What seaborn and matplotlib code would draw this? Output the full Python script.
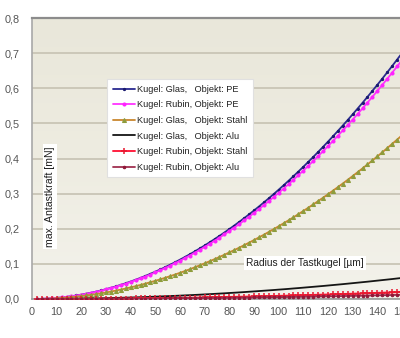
import matplotlib
matplotlib.use("Agg")
import matplotlib.pyplot as plt
import seaborn as sns
import numpy as np
import pandas as pd
from matplotlib.colors import LinearSegmentedColormap

radius = list(range(2, 151, 2))

glas_pe = [0.0001, 0.0005, 0.0011, 0.0020, 0.0031, 0.0045, 0.0061, 0.0080, 0.0101, 0.0124,
           0.0151, 0.0179, 0.0210, 0.0244, 0.0280, 0.0319, 0.0360, 0.0403, 0.0449, 0.0498,
           0.0549, 0.0602, 0.0658, 0.0717, 0.0778, 0.0841, 0.0907, 0.0976, 0.1047, 0.1120,
           0.1196, 0.1274, 0.1355, 0.1439, 0.1524, 0.1613, 0.1704, 0.1797, 0.1893, 0.1991,
           0.2092, 0.2195, 0.2301, 0.2409, 0.2520, 0.2633, 0.2749, 0.2867, 0.2988, 0.3111,
           0.3237, 0.3365, 0.3496, 0.3629, 0.3764, 0.3903, 0.4043, 0.4186, 0.4332, 0.4480,
           0.4631, 0.4784, 0.4939, 0.5097, 0.5258, 0.5421, 0.5586, 0.5754, 0.5925, 0.6098,
           0.6273, 0.6451, 0.6632, 0.6815, 0.7000]

rubin_pe = [0.0001, 0.0005, 0.0011, 0.0019, 0.0030, 0.0044, 0.0059, 0.0077, 0.0098, 0.0121,
            0.0146, 0.0174, 0.0204, 0.0237, 0.0272, 0.0309, 0.0349, 0.0392, 0.0436, 0.0484,
            0.0533, 0.0585, 0.0640, 0.0696, 0.0756, 0.0817, 0.0881, 0.0948, 0.1017, 0.1088,
            0.1162, 0.1238, 0.1316, 0.1397, 0.1481, 0.1567, 0.1655, 0.1746, 0.1839, 0.1934,
            0.2032, 0.2132, 0.2235, 0.2340, 0.2448, 0.2558, 0.2670, 0.2785, 0.2903, 0.3022,
            0.3144, 0.3269, 0.3396, 0.3525, 0.3657, 0.3791, 0.3928, 0.4067, 0.4208, 0.4352,
            0.4498, 0.4647, 0.4798, 0.4952, 0.5108, 0.5266, 0.5427, 0.5590, 0.5756, 0.5924,
            0.6094, 0.6267, 0.6442, 0.6620, 0.6800]

glas_stahl = [0.0001, 0.0003, 0.0007, 0.0013, 0.0021, 0.0030, 0.0041, 0.0053, 0.0067, 0.0083,
              0.0100, 0.0119, 0.0140, 0.0162, 0.0186, 0.0212, 0.0239, 0.0268, 0.0299, 0.0331,
              0.0365, 0.0401, 0.0438, 0.0477, 0.0518, 0.0560, 0.0604, 0.0650, 0.0697, 0.0746,
              0.0796, 0.0848, 0.0902, 0.0958, 0.1015, 0.1074, 0.1134, 0.1196, 0.1260, 0.1326,
              0.1393, 0.1461, 0.1532, 0.1604, 0.1678, 0.1753, 0.1830, 0.1909, 0.1989, 0.2071,
              0.2155, 0.2240, 0.2327, 0.2416, 0.2506, 0.2598, 0.2692, 0.2787, 0.2884, 0.2982,
              0.3083, 0.3185, 0.3288, 0.3393, 0.3500, 0.3609, 0.3719, 0.3831, 0.3944, 0.4059,
              0.4176, 0.4295, 0.4415, 0.4537, 0.4660]

glas_alu = [0.0000, 0.0000, 0.0001, 0.0002, 0.0003, 0.0004, 0.0005, 0.0007, 0.0009, 0.0011,
            0.0013, 0.0015, 0.0018, 0.0021, 0.0024, 0.0027, 0.0031, 0.0035, 0.0039, 0.0043,
            0.0047, 0.0052, 0.0056, 0.0061, 0.0067, 0.0072, 0.0078, 0.0084, 0.0090, 0.0096,
            0.0103, 0.0109, 0.0116, 0.0123, 0.0131, 0.0138, 0.0146, 0.0154, 0.0162, 0.0171,
            0.0179, 0.0188, 0.0197, 0.0207, 0.0216, 0.0226, 0.0236, 0.0246, 0.0256, 0.0267,
            0.0277, 0.0288, 0.0300, 0.0311, 0.0323, 0.0335, 0.0347, 0.0359, 0.0371, 0.0384,
            0.0397, 0.0410, 0.0423, 0.0437, 0.0451, 0.0465, 0.0479, 0.0493, 0.0508, 0.0523,
            0.0538, 0.0553, 0.0568, 0.0584, 0.0600]

rubin_stahl = [0.0000, 0.0000, 0.0000, 0.0001, 0.0001, 0.0001, 0.0002, 0.0002, 0.0003, 0.0004,
               0.0004, 0.0005, 0.0006, 0.0007, 0.0008, 0.0009, 0.0010, 0.0012, 0.0013, 0.0014,
               0.0016, 0.0017, 0.0019, 0.0020, 0.0022, 0.0024, 0.0026, 0.0028, 0.0030, 0.0032,
               0.0034, 0.0036, 0.0039, 0.0041, 0.0044, 0.0046, 0.0049, 0.0051, 0.0054, 0.0057,
               0.0060, 0.0063, 0.0066, 0.0069, 0.0072, 0.0075, 0.0079, 0.0082, 0.0085, 0.0089,
               0.0092, 0.0096, 0.0100, 0.0104, 0.0108, 0.0112, 0.0116, 0.0120, 0.0124, 0.0128,
               0.0132, 0.0137, 0.0141, 0.0146, 0.0150, 0.0155, 0.0160, 0.0164, 0.0169, 0.0174,
               0.0179, 0.0184, 0.0189, 0.0195, 0.0200]

rubin_alu = [0.0000, 0.0000, 0.0000, 0.0000, 0.0001, 0.0001, 0.0001, 0.0001, 0.0002, 0.0002,
             0.0003, 0.0003, 0.0004, 0.0004, 0.0005, 0.0005, 0.0006, 0.0007, 0.0008, 0.0009,
             0.0009, 0.0010, 0.0011, 0.0012, 0.0013, 0.0014, 0.0016, 0.0017, 0.0018, 0.0019,
             0.0021, 0.0022, 0.0023, 0.0025, 0.0026, 0.0028, 0.0029, 0.0031, 0.0032, 0.0034,
             0.0036, 0.0038, 0.0039, 0.0041, 0.0043, 0.0045, 0.0047, 0.0049, 0.0051, 0.0053,
             0.0055, 0.0058, 0.0060, 0.0062, 0.0065, 0.0067, 0.0069, 0.0072, 0.0074, 0.0077,
             0.0079, 0.0082, 0.0085, 0.0087, 0.0090, 0.0093, 0.0096, 0.0099, 0.0102, 0.0105,
             0.0108, 0.0111, 0.0114, 0.0117, 0.0120]

labels = ["Kugel: Glas,   Objekt: PE",
          "Kugel: Rubin, Objekt: PE",
          "Kugel: Glas,   Objekt: Stahl",
          "Kugel: Glas,   Objekt: Alu",
          "Kugel: Rubin, Objekt: Stahl",
          "Kugel: Rubin, Objekt: Alu"]
series = [glas_pe, rubin_pe, glas_stahl, glas_alu, rubin_stahl, rubin_alu]

y_ticks = [0.0, 0.1, 0.2, 0.3, 0.4, 0.5, 0.6, 0.7, 0.8]
x_ticks = list(range(0, 151, 10))

ylabel = "max. Antastkraft [mN]"
xlabel = "Radius der Tastkugel [µm]"

sns.set_theme(style="white")
plt.rcParams['font.family'] = ['Liberation Sans', 'DejaVu Sans']

fig = plt.figure(figsize=(4.0, 3.38), dpi=100)
ax = fig.add_axes([32/400, 1-299/338, 370/400, (299-18)/338])

# background gradient
grad = np.linspace(0, 1, 256).reshape(-1, 1)
cmap = LinearSegmentedColormap.from_list("bg", ["#F3F2EB", "#EEECE1", "#E9E7DA"])
ax.imshow(grad, aspect="auto", cmap=cmap, extent=[0, 1, 0, 1],
          transform=ax.transAxes, zorder=0, origin="lower")
ax.set_facecolor("#EDEBDF")

styles = [
    dict(color="#2A2A90", marker="o", markersize=1.6, markerfacecolor="#1A1A70",
         markeredgecolor="#1A1A70", linewidth=1.3),
    dict(color="#FF33FF", marker="o", markersize=2.2, markerfacecolor="#FF22FF",
         markeredgecolor="#FF22FF", linewidth=1.3),
    dict(color="#C9872E", marker="^", markersize=2.9, markerfacecolor="#8E9C3C",
         markeredgecolor="#8E9C3C", linewidth=1.3),
    dict(color="#151515", marker=None, linewidth=1.3),
    dict(color="#FF2040", marker="+", markersize=4.5, markeredgecolor="#E81830",
         markeredgewidth=1.1, linewidth=1.4),
    dict(color="#A03050", marker="o", markersize=1.8, markerfacecolor="#901838",
         markeredgecolor="#901838", linewidth=1.3),
]

df = pd.DataFrame({"radius": radius})
for lab, vals in zip(labels, series):
    df[lab] = vals

for lab, st in zip(labels, styles):
    sns.lineplot(data=df, x="radius", y=lab, ax=ax, label=lab, zorder=3, **st)

ax.set_xlim(0, 150)
ax.set_ylim(0, 0.8)
ax.set_xticks(x_ticks)
ax.set_yticks(y_ticks)
ax.set_xticklabels([str(v) for v in x_ticks])
ax.set_yticklabels([f"{v:.1f}".replace(".", ",") for v in y_ticks])
ax.set_xlabel("")
ax.set_ylabel("")
ax.tick_params(axis="both", length=0, labelsize=7.8, labelcolor="#555555")
ax.tick_params(axis="y", pad=9)
ax.tick_params(axis="x", pad=6)

ax.grid(axis="y", color="#C9C5B6", linewidth=1.3, zorder=1)
ax.grid(axis="x", visible=False)
ax.set_axisbelow(True)

ax.spines["top"].set_color("#8C8C8C")
ax.spines["top"].set_linewidth(1.6)
ax.spines["left"].set_color("#A8A8A8")
ax.spines["left"].set_linewidth(1.2)
ax.spines["bottom"].set_color("#9A9A9A")
ax.spines["bottom"].set_linewidth(1.2)
ax.spines["right"].set_visible(False)

ax.text(0.049, 0.365, ylabel, transform=ax.transAxes, rotation=90,
        ha="center", va="center", fontsize=7.6, color="#202020", zorder=5,
        bbox=dict(facecolor="white", edgecolor="none", pad=1.5))
ax.text(0.738, 0.128, xlabel, transform=ax.transAxes,
        ha="center", va="center", fontsize=7.3, color="#202020", zorder=5,
        bbox=dict(facecolor="white", edgecolor="none", pad=1.5))

leg = ax.legend(loc="upper left", bbox_to_anchor=(0.203, 0.782), borderaxespad=0,
                fontsize=6.6, frameon=True, fancybox=False, framealpha=1,
                edgecolor="#E0E0E0", handlelength=2.4, handletextpad=0.25,
                labelspacing=0.72, borderpad=0.6)
leg.get_frame().set_linewidth(0.8)
leg.set_zorder(6)
for t in leg.get_texts():
    t.set_color("#202020")

fig.savefig("out.png", dpi=100, facecolor="white")
